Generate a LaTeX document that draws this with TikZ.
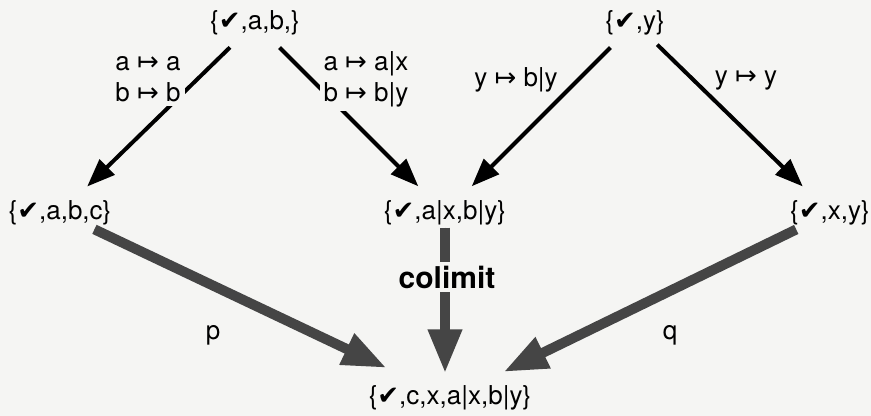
\documentclass[tikz,border=0pt]{standalone}
\usepackage{fontspec}
\setmainfont{TeX Gyre Heros}
\newfontfamily\symfont{DejaVu Sans}
\usetikzlibrary{arrows.meta}
\definecolor{paper}{HTML}{F5F5F3}
\definecolor{dither}{HTML}{454545}
\newcommand{\chkmark}{{\symfont ✔}}
\newcommand{\mapsarr}{{\symfont ↦}}

\begin{document}
\begin{tikzpicture}[
  x=0.5pt, y=-0.5pt,
  setnode/.style={inner sep=1pt, font=\fontsize{13}{15.5}\selectfont},
  lbl/.style={fill=paper, inner sep=2pt, align=center,
    font=\fontsize{13}{15.5}\selectfont},
  arr/.style={-{Triangle[length=14pt,width=10.5pt]}, line width=2pt,
    shorten <=7pt, shorten >=8.5pt},
  colarr/.style={-{Triangle[length=22pt,width=16pt]}, line width=5pt,
    draw=dither, fill=dither, shorten <=2pt}
]
\useasboundingbox (0,0) rectangle (871,416);
\fill[paper] (0,0) rectangle (871,416);

% ---- Sets ----
\node[setnode] (sab) at (255,23) {\{\chkmark,a,b,\}};
\node[setnode] (sy) at (635,23) {\{\chkmark,y\}};
\node[setnode] (sabc) at (60,213) {\{\chkmark,a,b,c\}};
\node[setnode] (saxby) at (445,213) {\{\chkmark,a|x,b|y\}};
\node[setnode] (sxy) at (830,213) {\{\chkmark,x,y\}};
\node[setnode] (scolim) at (450,398) {\{\chkmark,c,x,a|x,b|y\}};

% ---- Maps ----
\draw[arr] (sab) -- (sabc);
\draw[arr] (sab) -- (saxby);
\draw[arr] (sy) -- (saxby);
\draw[arr, shorten <=5pt] (sy) -- (sxy);

% ---- Colimit arrows ----
\draw[colarr, shorten >=18pt] (sabc) -- (scolim);
\draw[colarr, shorten <=0pt, shorten >=5pt] (saxby) -- (saxby |- scolim.north);
\draw[colarr, shorten >=13pt] (sxy) -- (scolim);

% ---- Labels ----
\node[lbl] (lab) at (148,79) {a \mapsarr\ a\\b \mapsarr\ b};
\node[lbl] (laxby) at (366,79) {a \mapsarr\ a|x\\b \mapsarr\ b|y};
\node[lbl, inner sep=1pt] (lyb) at (516,80) {y \mapsarr\ b|y};
\node[lbl, inner sep=1pt] (lyy) at (746,80) {y \mapsarr\ y};
\node[lbl, font=\fontsize{15}{18}\selectfont\bfseries] (lcol) at (447,277) {colimit};
\node[setnode] (lp) at (213,335) {p};
\node[setnode] (lq) at (670,335) {q};

\end{tikzpicture}
\end{document}
